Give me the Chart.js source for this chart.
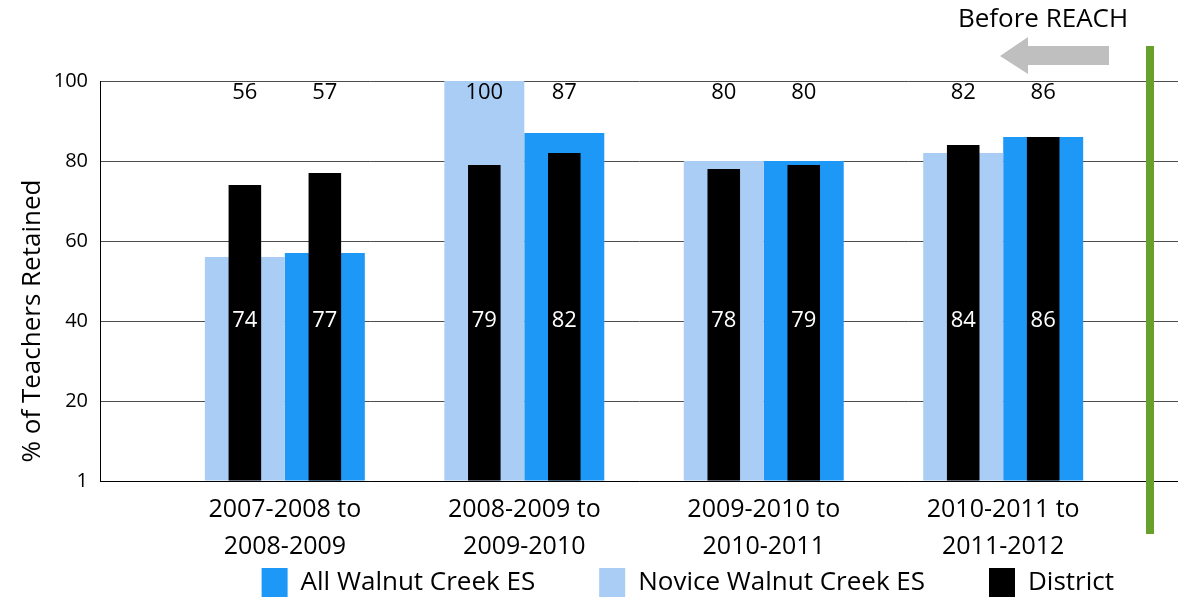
<!DOCTYPE html>
<html>
<head>
<meta charset="utf-8">
<title>Teacher Retention</title>
<script src="https://cdn.jsdelivr.net/npm/chart.js@4.4.1/dist/chart.umd.min.js"></script>
<style>
    html, body { margin: 0; padding: 0; background: #fff; }
    #wrap { width: 1178px; height: 598px; position: relative; }
</style>
</head>
<body>
<div id="wrap"><canvas id="retention-chart"></canvas></div>
<script>
// Chart data.
var categories = [
    ['2007-2008 to', '2008-2009'],
    ['2008-2009 to', '2009-2010'],
    ['2009-2010 to', '2010-2011'],
    ['2010-2011 to', '2011-2012']
];
var noviceValues = [56, 100, 80, 82];
var allValues = [57, 87, 80, 86];
var districtNoviceValues = [74, 79, 78, 84];   // district bar beside novice
var districtAllValues = [77, 82, 79, 86];      // district bar beside all
var yTickLabels = { 0: '1', 20: '20', 40: '40', 60: '60', 80: '80', 100: '100' };

(function () {
    'use strict';

    var FONT = '"Open Sans", Lato, sans-serif';
    var X_MIN = -0.772;
    var X_MAX = 3.73;
    var SHIFT = 0.167;   // half of a wide bar, in category units

    function toPoints(values) {
        return values.map(function (v, i) {
            return { x: i, y: v };
        });
    }

    function categoryTicks(scale) {
        scale.ticks = categories.map(function (c, i) {
            return { value: i };
        });
    }

    // hidden index axis, shifted so each pair sits left / right of the category centre
    function helperAxis(shift) {
        return {
            type: 'linear',
            offset: false,
            display: false,
            min: X_MIN + shift,
            max: X_MAX + shift,
            afterBuildTicks: categoryTicks
        };
    }

    function barSet(label, values, color, axis, width, order) {
        return {
            label: label,
            data: toPoints(values),
            backgroundColor: color,
            xAxisID: axis,
            grouped: false,
            order: order,
            categoryPercentage: 1,
            barPercentage: width
        };
    }

    /**
     * Labels, axis title and the "Before REACH" marker.
     */
    var annotations = {
        id: 'annotations',
        afterDatasetsDraw: function (chart) {
            var ctx = chart.ctx;
            var yScale = chart.scales.y;
            ctx.save();
            ctx.textAlign = 'center';
            ctx.textBaseline = 'middle';
            ctx.font = '22px ' + FONT;
            [2, 3].forEach(function (di, k) {
                var meta = chart.getDatasetMeta(di);
                var topVals = k === 0 ? noviceValues : allValues;
                var innerVals = k === 0 ? districtNoviceValues : districtAllValues;
                meta.data.forEach(function (bar, i) {
                    ctx.fillStyle = '#000';
                    ctx.fillText(topVals[i], bar.x, yScale.getPixelForValue(97));
                    ctx.fillStyle = '#fff';
                    ctx.fillText(innerVals[i], bar.x, yScale.getPixelForValue(40));
                });
            });
            ctx.restore();
        },
        afterDraw: function (chart) {
            var ctx = chart.ctx;
            ctx.save();

            // y axis title
            ctx.translate(40, 321);
            ctx.rotate(-Math.PI / 2);
            ctx.font = '26px ' + FONT;
            ctx.fillStyle = '#000';
            ctx.textAlign = 'center';
            ctx.textBaseline = 'alphabetic';
            ctx.fillText('% of Teachers Retained', 0, 0);
            ctx.setTransform(1, 0, 0, 1, 0, 0);

            // "Before REACH" caption
            ctx.font = '26px ' + FONT;
            ctx.textAlign = 'center';
            ctx.textBaseline = 'middle';
            ctx.fillText('Before REACH', 1043, 20);

            // grey arrow pointing left
            ctx.fillStyle = '#bfbfbf';
            ctx.beginPath();
            ctx.moveTo(1000, 56);
            ctx.lineTo(1028, 37);
            ctx.lineTo(1028, 46);
            ctx.lineTo(1109, 46);
            ctx.lineTo(1109, 65);
            ctx.lineTo(1028, 65);
            ctx.lineTo(1028, 74);
            ctx.closePath();
            ctx.fill();

            // green divider
            ctx.fillStyle = '#68a02c';
            ctx.fillRect(1146, 46, 8, 488);

            ctx.restore();
        }
    };

    document.addEventListener('DOMContentLoaded', function () {
        var ctx = document.getElementById('retention-chart').getContext('2d');

        new Chart(ctx, {
            type: 'bar',
            data: {
                datasets: [
                    barSet('Novice Walnut Creek ES', noviceValues, '#a9cdf5', 'xn', 0.334, 1),
                    barSet('All Walnut Creek ES', allValues, '#1e98f7', 'xa', 0.334, 1),
                    barSet('District', districtNoviceValues, '#000', 'xn', 0.136, 0),
                    barSet('District ', districtAllValues, '#000', 'xa', 0.136, 0)
                ]
            },
            options: {
                responsive: true,
                maintainAspectRatio: false,
                animation: false,
                layout: {
                    padding: { left: 52, top: 81, right: 0, bottom: -9 }
                },
                plugins: {
                    tooltip: { enabled: false },
                    legend: {
                        position: 'bottom',
                        align: 'end',
                        labels: {
                            boxWidth: 26,
                            boxHeight: 29,
                            padding: 64,
                            color: '#000',
                            font: { family: FONT, size: 26 },
                            filter: function (item) {
                                return item.datasetIndex !== 3;
                            },
                            sort: function (a, b) {
                                var rank = [1, 0, 2, 3];
                                return rank[a.datasetIndex] - rank[b.datasetIndex];
                            }
                        }
                    }
                },
                scales: {
                    x: {
                        type: 'linear',
                        offset: false,
                        min: X_MIN,
                        max: X_MAX,
                        grid: { display: false },
                        border: { color: '#000', width: 1 },
                        afterBuildTicks: categoryTicks,
                        afterFit: function (scale) {
                            scale.height = 23;
                            // labels run past the short axis box, don't clip them
                            scale._computeLabelArea = function () {
                                return undefined;
                            };
                        },
                        ticks: {
                            autoSkip: false,
                            maxRotation: 0,
                            padding: 2,
                            color: '#000',
                            font: { family: FONT, size: 25, lineHeight: 1.48 },
                            callback: function (value) {
                                return categories[value];
                            }
                        }
                    },
                    xn: helperAxis(SHIFT),
                    xa: helperAxis(-SHIFT),
                    y: {
                        min: 0,
                        max: 100,
                        grid: { color: '#4d4d4d', lineWidth: 1, drawTicks: false },
                        border: { color: '#000', width: 1 },
                        afterFit: function (scale) {
                            scale.width = 48;
                        },
                        ticks: {
                            stepSize: 20,
                            padding: 12,
                            color: '#000',
                            font: { family: FONT, size: 20 },
                            callback: function (value) {
                                return yTickLabels[value];
                            }
                        }
                    }
                }
            },
            plugins: [annotations]
        });
    });
})();
</script>
</body>
</html>
